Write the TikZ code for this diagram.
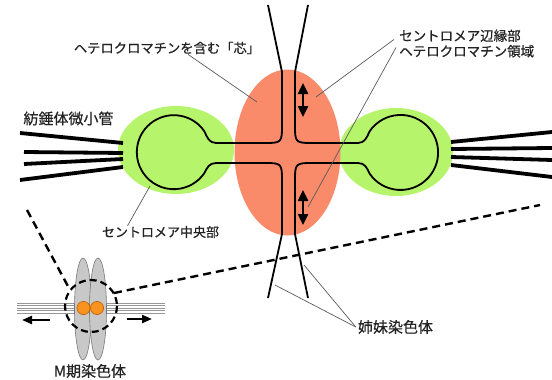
\documentclass[tikz,border=0pt]{standalone}
\usepackage{fontspec}
\setmainfont{Noto Sans CJK JP}[FakeBold=0.6]
\usetikzlibrary{arrows.meta}
\definecolor{coresalmon}{RGB}{249,139,107}
\definecolor{kineto}{RGB}{182,244,108}
\definecolor{chromgrey}{RGB}{200,200,200}
\definecolor{chromedge}{RGB}{120,120,120}
\definecolor{cenorange}{RGB}{247,147,30}
\definecolor{cenedge}{RGB}{190,95,0}
\definecolor{labelgrey}{RGB}{35,35,35}
\definecolor{leadergrey}{RGB}{90,90,90}
\definecolor{spindlegrey}{RGB}{150,150,150}
\begin{document}
\begin{tikzpicture}[x=1pt,y=-1pt,
  chromatid/.style={line width=1.8pt, black, line join=round},
  fiber/.style={line width=3.8pt, black},
  leader/.style={line width=0.7pt, leadergrey},
  dashline/.style={line width=2.4pt, dash pattern=on 8pt off 5pt},
  pull/.style={line width=2.2pt, -{Triangle[width=8pt,length=10pt]}},
  shiftarrow/.style={line width=2.4pt, {Triangle[width=10pt,length=11pt]}-{Triangle[width=10pt,length=11pt]}},
  lbl/.style={text=labelgrey, inner sep=0pt, font=\fontsize{#1}{#1}\selectfont},
  lbl/.default=15,
]
\useasboundingbox (0,0) rectangle (552,380);

% kinetochore regions and heterochromatin core
\fill[kineto] (176,150) ellipse[x radius=58, y radius=44];
\fill[kineto] (396,152) ellipse[x radius=57, y radius=44];
\fill[coresalmon] (287.5,152.5) ellipse[x radius=53, y radius=83];

% spindle microtubules
\draw[fiber] (20,133) -- (123,143);
\draw[fiber] (24,152) -- (123,153);
\draw[fiber] (24,164) -- (123,159);
\draw[fiber] (20,180) -- (123,167);
\draw[fiber] (451,142) -- (552,132);
\draw[fiber] (451,149) -- (552,148);
\draw[fiber] (451,157) -- (552,160);
\draw[fiber] (451,165) -- (552,177);

% sister chromatids with looped centromeres
\draw[chromatid] (268,5) -- (282,72) -- (282,124) .. controls (282,143) .. (263,143)
  -- (216,143) .. controls (209,143) and (207,137) .. (204.5,131.5)
  arc[start angle=-34, end angle=-326, radius=37]
  .. controls (207,168) and (209,163) .. (216,163) -- (263,163)
  .. controls (282,163) .. (282,182) -- (282,234) -- (268,298);
\draw[chromatid] (308,5) -- (295,72) -- (295,124) .. controls (295,143) .. (314,143)
  -- (358,143) .. controls (365,143) and (367,137) .. (369.5,131.5)
  arc[start angle=-146, end angle=146, radius=37.5]
  .. controls (367,168) and (365,163) .. (358,163) -- (314,163)
  .. controls (295,163) .. (295,182) -- (295,234) -- (308,298);

% cohesion of pericentromeric heterochromatin
\draw[shiftarrow] (303,83) -- (303,117);
\draw[shiftarrow] (303,190) -- (303,225);

% zoom guide lines
\draw[dashline] (27,210) -- (70,290);
\draw[dashline] (114,293) -- (540,205);

% metaphase chromosome
\foreach \yy in {303,305.5,308,310.5,313}
  \draw[spindlegrey, line width=0.6pt] (17,\yy) -- (165,\yy);
\filldraw[fill=chromgrey, draw=chromedge, line width=0.6pt] (83,309) ellipse[x radius=8.5, y radius=51];
\filldraw[fill=chromgrey, draw=chromedge, line width=0.6pt] (98,309) ellipse[x radius=8.5, y radius=51];
\filldraw[fill=cenorange, draw=cenedge, line width=0.6pt] (83.5,308) circle[radius=6.6];
\filldraw[fill=cenorange, draw=cenedge, line width=0.6pt] (97,308) circle[radius=6.6];
\draw[line width=2.2pt, dash pattern=on 7pt off 4pt] (91,306) circle[radius=26];
\draw[pull] (50,320) -- (22,320);
\draw[pull] (127,319) -- (152,319);

% labels
\node[lbl=15] (mt) at (68.5,118.5) {紡錘体微小管};
\node[lbl=13.3] (core) at (167,48) {ヘテロクロマチンを含む「芯」};
\node[text=labelgrey, inner sep=0pt, anchor=west, align=left,
      font=\fontsize{13.5}{15.5}\selectfont] (peri) at (399,43.5)
      {セントロメア辺縁部\\ヘテロクロマチン領域};
\node[lbl=13] (cen) at (160.5,232) {セントロメア中央部};
\node[lbl=15] (mch) at (90,371) {M期染色体};
\node[lbl=15] (sis) at (395.5,327) {姉妹染色体};

% leader lines
\coordinate (coreTip) at (257,102);
\coordinate (periTipA) at (316,97);
\coordinate (periTipB) at (308,207);
\coordinate (cenTip) at (150,186);
\coordinate (sisTipA) at (304,265);
\coordinate (sisTipB) at (275,285);
\draw[leader] ([xshift=21pt]core.south) -- (coreTip);
\draw[leader] ([xshift=-5pt,yshift=4pt]peri.west) -- (periTipA);
\draw[leader] ([xshift=-3pt,yshift=-4pt]peri.west) -- (periTipB);
\draw[leader] ([xshift=-33pt]cen.north) -- (cenTip);
\draw[leader] ([xshift=-2pt]sis.west) -- (sisTipA);
\draw[leader] ([xshift=-2pt]sis.west) -- (sisTipB);
\end{tikzpicture}
\end{document}
